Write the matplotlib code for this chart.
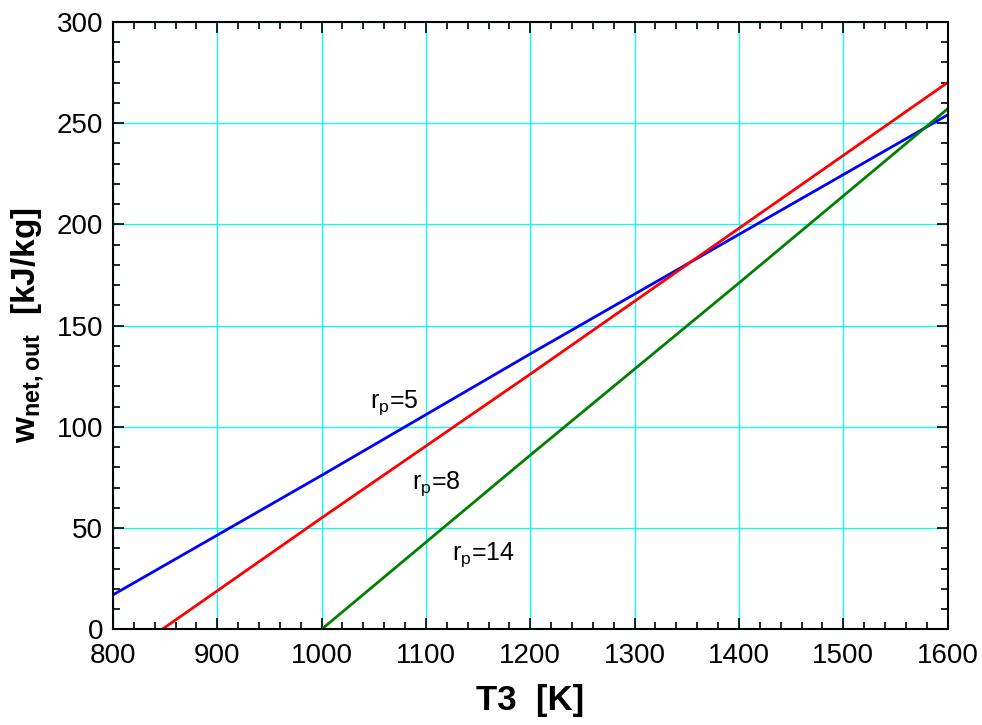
import matplotlib
matplotlib.use("Agg")
import matplotlib.pyplot as plt
from matplotlib.ticker import MultipleLocator

plt.rcParams['font.family'] = ['Liberation Sans', 'DejaVu Sans']
plt.rcParams['mathtext.default'] = 'regular'

# turbine inlet temperature [K]
T3 = [800, 1000, 1200, 1400, 1600]
# net work output [kJ/kg] for each pressure ratio
w_rp5 = [17, 76, 136, 195, 254]
w_rp8 = [-17, 55, 126, 198, 270]
w_rp14 = [-86, 0, 86, 171, 257]

series = [
    (w_rp5, '#0000ff', r'r$_p$=5', (1070, 112)),
    (w_rp8, '#ff0000', r'r$_p$=8', (1110, 72)),
    (w_rp14, '#008000', r'r$_p$=14', (1155, 37)),
]

fig = plt.figure(figsize=(9.82, 7.25), dpi=100)
ax = fig.add_axes([0.115, 0.132, 0.850, 0.838])

for w, col, lab, pos in series:
    ax.plot(T3, w, color=col, lw=2)
    ax.text(pos[0], pos[1], lab, fontsize=18, ha='center', va='center')

ax.set_xlim(800, 1600)
ax.set_ylim(0, 300)
ax.xaxis.set_major_locator(MultipleLocator(100))
ax.xaxis.set_minor_locator(MultipleLocator(20))
ax.yaxis.set_major_locator(MultipleLocator(50))
ax.yaxis.set_minor_locator(MultipleLocator(10))

ax.grid(True, which='major', color='#00ffff', lw=0.9)
ax.set_axisbelow(True)

ax.tick_params(which='both', direction='in', top=True, right=True, width=1.2)
ax.tick_params(which='major', length=8, labelsize=20)
ax.tick_params(which='minor', length=5)
ax.tick_params(axis='x', which='major', pad=10)
ax.tick_params(axis='y', which='major', pad=7)
for s in ax.spines.values():
    s.set_linewidth(1.5)

ax.set_xlabel('T3  [K]', fontsize=25, fontweight='bold', labelpad=11)
ax.set_ylabel(r'w$_{net,out}$  [kJ/kg]', fontsize=24, fontweight='bold', labelpad=8)

fig.savefig('out.png', dpi=100)
